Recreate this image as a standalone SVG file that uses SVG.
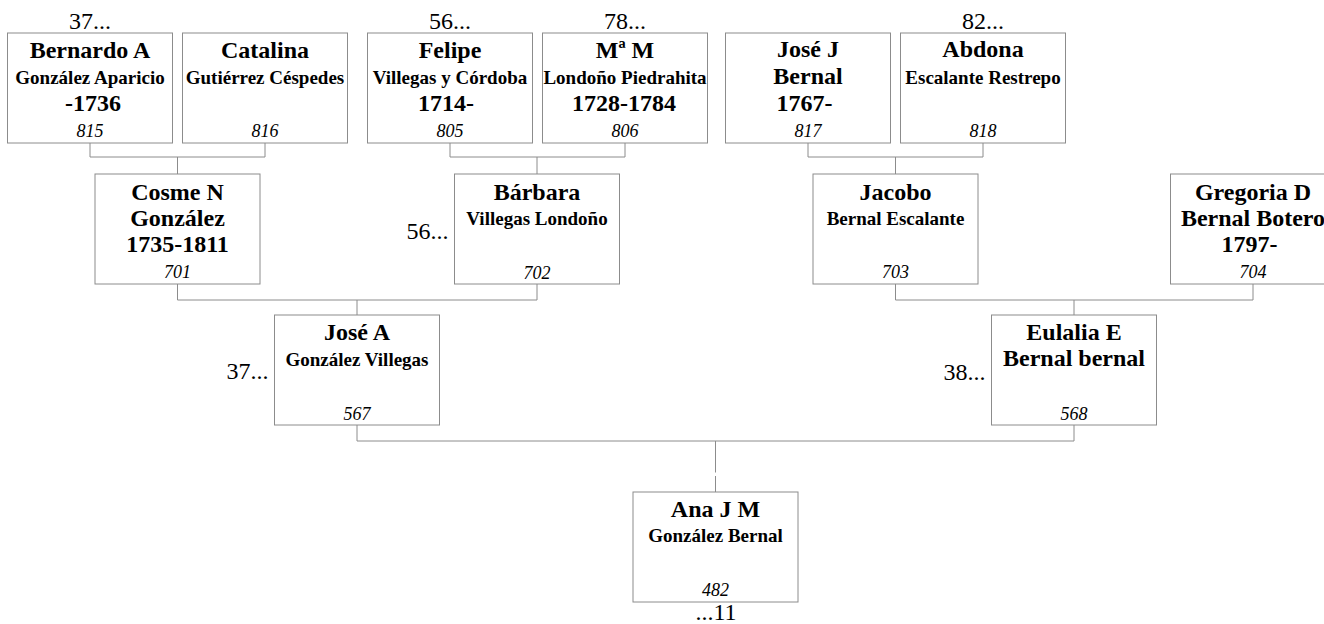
<svg xmlns="http://www.w3.org/2000/svg" width="1324" height="624" viewBox="0 0 1324 624">
<style>
.box{fill:#fff;stroke:#8c8c8c;stroke-width:1}
.con{fill:none;stroke:#8c8c8c;stroke-width:1}
text{font-family:"Liberation Serif","Times New Roman",serif;fill:#000;text-anchor:middle}
.n{font-weight:bold;font-size:24px}
.s{font-weight:bold;font-size:19px}
.id{font-style:italic;font-size:18px}
.lab{font-size:24px}
.end{text-anchor:end}
</style>
<rect width="1324" height="624" fill="#fff"/>
<g id="connectors">
<path class="con" d="M90,143V157H265V143M177.5,157V174"/>
<path class="con" d="M450,143V157H625V143M537,157V174"/>
<path class="con" d="M808,143V157H983V143M895.5,157V174"/>
<path class="con" d="M177.5,284V300H537V284M357,300V315"/>
<path class="con" d="M895.5,284V300H1253V284M1074,300V315"/>
<path class="con" d="M357,425V441H1074V425M715.5,441V472.5M715.5,476V492"/>
</g>
<g id="n815">
<text class="lab" x="90" y="28.5">37...</text>
<rect class="box" x="7.5" y="33" width="165" height="110"/>
<text class="n" x="90" y="58">Bernardo A</text>
<text class="s" x="90" y="84">González Aparicio</text>
<text class="n" x="93" y="110.5">-1736</text>
<text class="id" x="90" y="137">815</text>
</g>
<g id="n816">
<rect class="box" x="182.5" y="33" width="165" height="110"/>
<text class="n" x="265" y="58">Catalina</text>
<text class="s" x="265" y="84">Gutiérrez Céspedes</text>
<text class="id" x="265" y="137">816</text>
</g>
<g id="n805">
<text class="lab" x="450" y="28.5">56...</text>
<rect class="box" x="367.5" y="33" width="165" height="110"/>
<text class="n" x="450" y="58">Felipe</text>
<text class="s" x="450" y="84">Villegas y Córdoba</text>
<text class="n" x="446" y="110.5">1714-</text>
<text class="id" x="450" y="137">805</text>
</g>
<g id="n806">
<text class="lab" x="625" y="28.5">78...</text>
<rect class="box" x="542.5" y="33" width="165" height="110"/>
<text class="n" x="625" y="58">Mª M</text>
<text class="s" x="625" y="84">Londoño Piedrahita</text>
<text class="n" x="624" y="110.5">1728-1784</text>
<text class="id" x="625" y="137">806</text>
</g>
<g id="n817">
<rect class="box" x="725.5" y="33" width="165" height="110"/>
<text class="n" x="808" y="57">José J</text>
<text class="n" x="808" y="83.5">Bernal</text>
<text class="n" x="804.5" y="110.5">1767-</text>
<text class="id" x="808" y="137">817</text>
</g>
<g id="n818">
<text class="lab" x="983" y="28.5">82...</text>
<rect class="box" x="900.5" y="33" width="165" height="110"/>
<text class="n" x="983" y="57">Abdona</text>
<text class="s" x="983" y="83.5">Escalante Restrepo</text>
<text class="id" x="983" y="137">818</text>
</g>
<g id="n701">
<rect class="box" x="95" y="174" width="165" height="110"/>
<text class="n" x="177.5" y="199.5">Cosme N</text>
<text class="n" x="177.5" y="225.5">González</text>
<text class="n" x="177.5" y="251.5">1735-1811</text>
<text class="id" x="177.5" y="278">701</text>
</g>
<g id="n702">
<text class="lab end" x="448.5" y="239">56...</text>
<rect class="box" x="454.5" y="174" width="165" height="110"/>
<text class="n" x="537" y="199.5">Bárbara</text>
<text class="s" x="537" y="225">Villegas Londoño</text>
<text class="id" x="537" y="278.5">702</text>
</g>
<g id="n703">
<rect class="box" x="813" y="174" width="165" height="110"/>
<text class="n" x="895.5" y="199.5">Jacobo</text>
<text class="s" x="895.5" y="225">Bernal Escalante</text>
<text class="id" x="895.5" y="278">703</text>
</g>
<g id="n704">
<rect class="box" x="1170.5" y="174" width="165" height="110"/>
<text class="n" x="1253" y="199.5">Gregoria D</text>
<text class="n" x="1253" y="225.5">Bernal Botero</text>
<text class="n" x="1249.5" y="251.5">1797-</text>
<text class="id" x="1253" y="278">704</text>
</g>
<g id="n567">
<text class="lab end" x="268.5" y="379">37...</text>
<rect class="box" x="274.5" y="315" width="165" height="110"/>
<text class="n" x="357" y="339.5">José A</text>
<text class="s" x="357" y="366">González Villegas</text>
<text class="id" x="357" y="419.5">567</text>
</g>
<g id="n568">
<text class="lab end" x="985.5" y="380">38...</text>
<rect class="box" x="991.5" y="315" width="165" height="110"/>
<text class="n" x="1074" y="339.5">Eulalia E</text>
<text class="n" x="1074" y="366">Bernal bernal</text>
<text class="id" x="1074" y="419.5">568</text>
</g>
<g id="n482">
<rect class="box" x="633" y="492" width="165" height="110"/>
<text class="n" x="715.5" y="516.5">Ana J M</text>
<text class="s" x="715.5" y="542">González Bernal</text>
<text class="id" x="715.5" y="596">482</text>
<text class="lab" x="716" y="619.5">...11</text>
</g>
</svg>
